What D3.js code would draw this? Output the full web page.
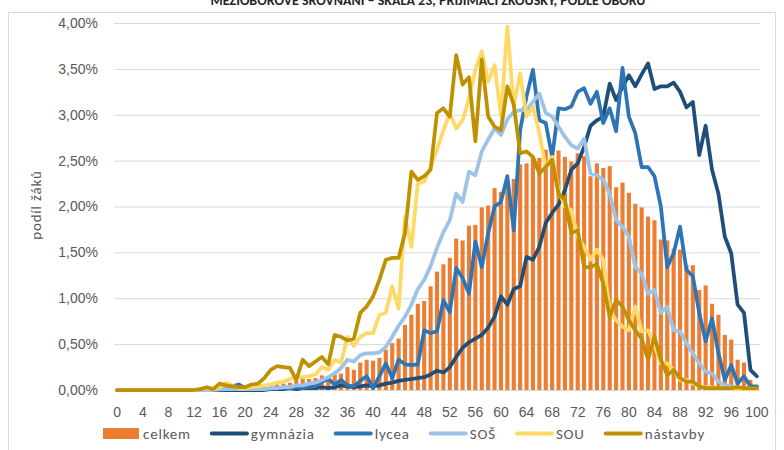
<!DOCTYPE html>
<html lang="cs">
<head>
<meta charset="UTF-8">
<title>Rozložení výsledků podle oborů</title>
<script src="https://d3js.org/d3.v7.min.js"></script>
<style>
  body { margin: 0; background: #fff; font-family: Carlito, Lato, "Open Sans", sans-serif; }
  svg { display: block; }
  .tick text { fill: #595959; font-size: 14px; }
</style>
</head>
<body>
<svg width="784" height="450"></svg>
<script>
// kategorie (body) a popisky os
const categories = d3.range(0, 101);
const xTickLabels = categories.filter(d => d % 4 === 0);
const yTicks = [0, 0.5, 1, 1.5, 2, 2.5, 3, 3.5, 4];

// podíl žáků v %, body 0..100
const celkem = [
  0,0,0,0,0,0,0,0,0,0,
  0,0,0,0,0.01,0.01,0.01,0.01,0.02,0.02,
  0.02,0.03,0.03,0.04,0.05,0.06,0.07,0.08,0.10,0.12,
  0.12,0.13,0.16,0.15,0.17,0.18,0.25,0.22,0.30,0.33,
  0.32,0.35,0.44,0.51,0.56,0.71,0.82,0.94,0.97,1.13,
  1.29,1.37,1.44,1.65,1.63,1.79,1.80,1.99,2.01,2.20,
  2.16,2.28,2.30,2.46,2.47,2.54,2.53,2.62,2.55,2.61,
  2.54,2.49,2.58,2.55,2.33,2.47,2.42,2.44,2.21,2.26,
  2.15,2.03,1.99,1.89,1.85,1.64,1.63,1.54,1.53,1.36,
  1.36,1.09,1.14,0.94,0.82,0.60,0.55,0.33,0.30,0.11,
  0.05];
const gymnazia = [
  0,0,0,0,0,0,0,0,0,0,
  0,0,0,0,0,0,0,0,0,0,
  0,0,0,0,0.01,0.01,0.01,0.02,0.01,0.02,
  0.02,0.02,0.03,0.02,0.03,0.05,0.04,0.03,0.04,0.05,
  0.04,0.05,0.07,0.08,0.10,0.11,0.12,0.13,0.14,0.17,
  0.21,0.19,0.25,0.36,0.46,0.52,0.56,0.60,0.68,0.80,
  1.02,0.93,1.10,1.13,1.45,1.42,1.56,1.82,1.93,2.02,
  2.18,2.40,2.47,2.65,2.88,2.94,2.98,3.34,3.16,3.30,
  3.43,3.31,3.44,3.56,3.28,3.31,3.31,3.35,3.25,3.08,
  3.14,2.56,2.88,2.40,2.14,1.67,1.49,0.93,0.84,0.22,
  0.15];
const lycea = [
  0,0,0,0,0,0,0,0,0,0,
  0,0,0,0,0,0,0,0.01,0.04,0.06,
  0.02,0.01,0.01,0.01,0.01,0.02,0.02,0.02,0.03,0.02,
  0.03,0.04,0.09,0.12,0.06,0.11,0.05,0.04,0.10,0.15,
  0.02,0.15,0.29,0.13,0.33,0.28,0.27,0.28,0.65,0.62,
  0.64,0.98,0.85,1.33,1.22,1.05,1.62,1.34,1.71,2.00,
  2.05,2.33,1.74,2.83,3.20,3.49,2.94,2.91,2.54,3.07,
  3.06,3.09,3.25,3.29,3.12,3.25,2.91,3.07,2.82,3.51,
  2.98,2.80,2.43,2.43,2.33,2.00,1.34,1.49,1.78,1.31,
  1.24,0.84,0.53,0.78,0.40,0.11,0.27,0.07,0.15,0.04,
  0.04];
const sos = [
  0,0,0,0,0,0,0,0,0,0,
  0,0,0,0,0,0,0.01,0.01,0.01,0.01,
  0.01,0.01,0.01,0.01,0.02,0.02,0.03,0.03,0.05,0.05,
  0.07,0.08,0.11,0.14,0.18,0.24,0.33,0.31,0.38,0.40,
  0.40,0.41,0.47,0.58,0.70,0.80,0.93,1.10,1.20,1.35,
  1.55,1.72,1.85,2.14,2.05,2.38,2.34,2.60,2.73,2.85,
  2.78,2.95,3.03,3.05,3.05,3.14,3.23,3.02,2.98,2.87,
  2.76,2.67,2.63,2.74,2.36,2.34,2.29,2.14,1.85,1.78,
  1.67,1.34,1.27,1.05,1.09,0.84,0.91,0.65,0.64,0.51,
  0.40,0.29,0.20,0.18,0.09,0.05,0.04,0.02,0.02,0.01,
  0.01];
const sou = [
  0,0,0,0,0,0,0,0,0,0,
  0,0,0,0.01,0.02,0.01,0.03,0.08,0.05,0.02,
  0.02,0.03,0.04,0.05,0.06,0.08,0.09,0.12,0.14,0.14,
  0.15,0.17,0.25,0.22,0.33,0.30,0.58,0.48,0.58,0.62,
  0.62,0.82,0.84,1.13,0.89,1.89,1.56,2.25,2.27,2.43,
  2.62,2.83,3.02,2.85,2.94,3.18,3.49,3.69,3.36,3.54,
  2.98,3.96,3.09,3.45,2.98,3.09,2.80,2.43,2.54,2.18,
  2.00,1.96,1.67,1.56,1.42,1.53,1.42,0.87,0.76,0.69,
  0.65,0.91,0.64,0.65,0.49,0.29,0.29,0.22,0.11,0.11,
  0.07,0.04,0.03,0.03,0.02,0.02,0.02,0.01,0.01,0.01,
  0.01];
const nastavby = [
  0,0,0,0,0,0,0,0,0,0,
  0,0,0,0.01,0.03,0.01,0.07,0.05,0.04,0.03,
  0.03,0.06,0.07,0.13,0.22,0.26,0.25,0.24,0.11,0.33,
  0.26,0.31,0.36,0.28,0.60,0.58,0.54,0.56,0.84,0.91,
  1.02,1.20,1.42,1.44,1.44,1.71,2.38,2.29,2.33,2.40,
  3.02,3.07,2.98,3.65,3.33,3.41,2.71,3.60,2.98,2.87,
  2.83,3.31,3.11,2.58,2.60,2.54,2.36,2.43,2.51,2.14,
  2.07,1.71,1.74,1.34,1.34,1.37,1.16,0.80,0.98,0.91,
  0.76,0.65,0.56,0.33,0.58,0.33,0.16,0.22,0.13,0.09,
  0.09,0.04,0.02,0.02,0.02,0.02,0.02,0.03,0.02,0.02,
  0.02];

const lineSeries = [
  { name: "gymnázia", values: gymnazia, color: "#1f4e79" },
  { name: "lycea",    values: lycea,    color: "#2e75b6" },
  { name: "SOŠ",      values: sos,      color: "#9dc3e6" },
  { name: "SOU",      values: sou,      color: "#ffd966" },
  { name: "nástavby", values: nastavby, color: "#bf9000" }
];
const barColor = "#ed7d31";

const svg = d3.select("svg");
const plotLeft = 114, plotRight = 760, plotTop = 23, plotBottom = 390;

// rámeček grafu a nadpis (oříznutý nahoře)
svg.append("rect")
  .attr("x", 8.5).attr("y", 12.5)
  .attr("width", 767).attr("height", 445)
  .attr("fill", "none").attr("stroke", "#d9d9d9");

svg.append("text")
  .attr("x", 428).attr("y", 5)
  .attr("text-anchor", "middle")
  .style("font-size", "14px").style("font-weight", "bold").style("fill", "#262626")
  .text("MEZIOBOROVÉ SROVNÁNÍ – ŠKÁLA 23, PŘIJÍMACÍ ZKOUŠKY, PODLE OBORU");

const x = d3.scaleBand()
  .domain(categories)
  .range([plotLeft, plotRight])
  .paddingInner(0.36)
  .paddingOuter(0.18);
const cx = d => x(d) + x.bandwidth() / 2;

const y = d3.scaleLinear().domain([0, 4]).range([plotBottom, plotTop]);

const cs = d3.formatLocale({ decimal: ",", thousands: " ", grouping: [3], currency: ["", " Kč"] });
const pct = d => cs.format(".2f")(d) + "%";

// mřížka
svg.append("g")
  .attr("transform", `translate(${plotLeft},0)`)
  .call(d3.axisLeft(y).tickValues(yTicks).tickSize(-(plotRight - plotLeft)).tickFormat(""))
  .call(g => g.select(".domain").remove())
  .selectAll("line").attr("stroke", "#d9d9d9");

// osa y
svg.append("g")
  .attr("transform", `translate(${plotLeft},0)`)
  .call(d3.axisLeft(y).tickValues(yTicks).tickSize(0).tickPadding(16).tickFormat(pct))
  .call(g => g.select(".domain").remove());

// osa x
svg.append("g")
  .attr("transform", `translate(0,${plotBottom})`)
  .call(d3.axisBottom(x).tickValues(xTickLabels).tickSize(0).tickPadding(17))
  .call(g => g.select(".domain").remove());

svg.append("text")
  .attr("transform", "translate(41,205) rotate(-90)")
  .attr("text-anchor", "middle")
  .style("font-size", "15px").style("letter-spacing", "0.8px").style("fill", "#595959")
  .text("podíl žáků");

// sloupce celkem
svg.append("g").selectAll("rect")
  .data(categories)
  .join("rect")
  .attr("x", d => x(d))
  .attr("width", x.bandwidth())
  .attr("y", d => y(celkem[d]))
  .attr("height", d => y(0) - y(celkem[d]))
  .attr("fill", barColor);

// čáry oborů
const line = d3.line().x((v, i) => cx(categories[i])).y(v => y(v));
svg.append("g").selectAll("path")
  .data(lineSeries)
  .join("path")
  .attr("d", d => line(d.values))
  .attr("fill", "none")
  .attr("stroke", d => d.color)
  .attr("stroke-width", 3.75)
  .attr("stroke-linejoin", "round")
  .attr("stroke-linecap", "round");

// legenda
const legendItems = [{ name: "celkem", color: barColor, bar: true }].concat(lineSeries);
let lx = 103;
const legend = svg.append("g");
legendItems.forEach(item => {
  let tx;
  if (item.bar) {
    legend.append("rect").attr("x", lx).attr("y", 428).attr("width", 36).attr("height", 11).attr("fill", item.color);
    tx = lx + 40;
  } else {
    legend.append("line").attr("x1", lx + 2).attr("x2", lx + 37).attr("y1", 433.5).attr("y2", 433.5)
      .attr("stroke", item.color).attr("stroke-width", 4).attr("stroke-linecap", "round");
    tx = lx + 41;
  }
  const t = legend.append("text").attr("x", tx).attr("y", 439)
    .style("font-size", "15px").style("letter-spacing", "0.8px").style("fill", "#595959").text(item.name);
  lx = tx + t.node().getComputedTextLength() + 19;
});
</script>
</body>
</html>
